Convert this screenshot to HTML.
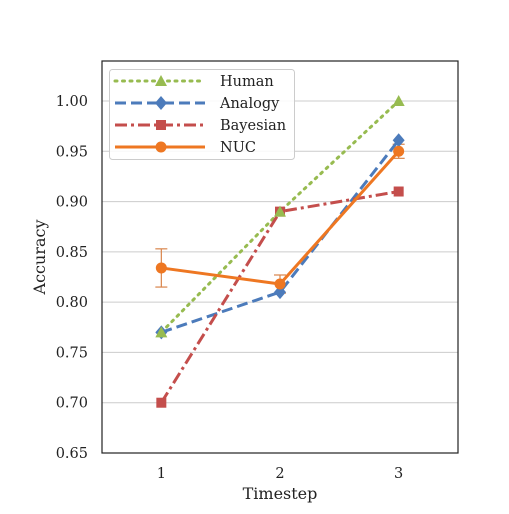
<!DOCTYPE html>
<html><head><meta charset="utf-8"><style>
body{margin:0;background:#fff}
svg text{font-family:"DejaVu Serif","Liberation Serif",serif;fill:#222}
</style></head><body>
<svg id="chart" width="509" height="509" xmlns="http://www.w3.org/2000/svg">
<rect width="509" height="509" fill="#fff"/>
<g id="grid"></g>
<g id="series"></g>
<rect x="102" y="61" width="356" height="392" fill="none" stroke="#222" stroke-width="1.2"/>
<g id="ticks"></g>
<text x="280" y="499" text-anchor="middle" font-size="16">Timestep</text>
<text transform="translate(45,257) rotate(-90)" text-anchor="middle" font-size="16">Accuracy</text>
<g id="legend">
<rect x="109.5" y="69.5" width="185" height="90" rx="3" fill="#fff" fill-opacity="0.85" stroke="#ccc"/>
</g>
</svg>
<script>
const timesteps=[1,2,3];
const yTicks=[0.65,0.70,0.75,0.80,0.85,0.90,0.95,1.00];
const human=[0.77,0.89,1.00];
const analogy=[0.77,0.81,0.961];
const bayesian=[0.70,0.89,0.91];
const nuc=[0.834,0.818,0.950];
const nucErr=[0.019,0.009,0.007];
const seriesNames=["Human","Analogy","Bayesian","NUC"];

const X=v=>102+(v-0.5)*(356/3);
const Y=v=>453-(v-0.65)*(352/0.35);
const NS="http://www.w3.org/2000/svg";
function mk(tag,attrs,parent){const e=document.createElementNS(NS,tag);for(const k in attrs)e.setAttribute(k,attrs[k]);parent.appendChild(e);return e;}
const grid=document.getElementById('grid'),ticks=document.getElementById('ticks'),ser=document.getElementById('series'),leg=document.getElementById('legend');
yTicks.forEach(t=>{
  const l=mk('line',{x1:102,x2:458,y1:Y(t),y2:Y(t),stroke:'#ccc','stroke-width':1},grid);
  
  
  const tx=mk('text',{x:88,y:Y(t)+5,'text-anchor':'end','font-size':14.5},ticks);
  tx.textContent=t.toFixed(2);
  
  
});
timesteps.forEach(t=>{
  const tx=mk('text',{x:X(t),y:478,'text-anchor':'middle','font-size':14.5},ticks);
  tx.textContent=t;
  
  
});
function marker(type,x,y,c,p){
  let e;
  if(type==='tri')e=mk('polygon',{points:`${x},${y-6} ${x+6},${y+5} ${x-6},${y+5}`,fill:c},p);
  else if(type==='dia')e=mk('polygon',{points:`${x},${y-7} ${x+6},${y} ${x},${y+7} ${x-6},${y}`,fill:c},p);
  else if(type==='sq')e=mk('rect',{x:x-5,y:y-5,width:10,height:10,fill:c},p);
  else e=mk('circle',{cx:x,cy:y,r:5.5,fill:c},p);
  return e;
}
const defs=[
 {vals:human,c:'#97bb50',dash:'2,5.5',m:'tri',name:'human'},
 {vals:analogy,c:'#4c7bbb',dash:'11,5',m:'dia',name:'analogy'},
 {vals:bayesian,c:'#c44e4c',dash:'12,4,3,4',m:'sq',name:'bayesian'},
 {vals:nuc,c:'#ee7722',dash:'',m:'circ',name:'nuc'}
];
nuc.forEach((v,i)=>{
  const g=mk('g',{stroke:'#d9844a','stroke-width':1.2},ser);
  
  
  const x=X(timesteps[i]);
  mk('line',{x1:x,x2:x,y1:Y(v-nucErr[i]),y2:Y(v+nucErr[i])},g);
  mk('line',{x1:x-6,x2:x+6,y1:Y(v-nucErr[i]),y2:Y(v-nucErr[i])},g);
  mk('line',{x1:x-6,x2:x+6,y1:Y(v+nucErr[i]),y2:Y(v+nucErr[i])},g);
});
defs.forEach((d,k)=>{
  const pts=d.vals.map((v,i)=>X(timesteps[i])+','+Y(v)).join(' ');
  const pl=mk('polyline',{points:pts,fill:'none',stroke:d.c,'stroke-width':3,'stroke-dasharray':d.dash,'stroke-linecap':d.m==='tri'?'round':'butt'},ser);
  
  
  if(d.m!=='tri'){
    d.vals.forEach((v,i)=>{
      const m=marker(d.m,X(timesteps[i]),Y(v),d.c,ser);
      
      
    });
  }
  const ly=81+k*22;
  const ll=mk('line',{x1:115,x2:205,y1:ly,y2:ly,stroke:d.c,'stroke-width':3,'stroke-dasharray':d.dash,'stroke-linecap':d.m==='tri'?'round':'butt'},leg);
  
  
  const lm=marker(d.m,161,ly,d.c,leg);
  
  
  const tx=mk('text',{x:220,y:ly+5,'font-size':14.5},leg);
  tx.textContent=seriesNames[k];
  
  
});
human.forEach((v,i)=>{
  const m=marker('tri',X(timesteps[i]),Y(v),'#97bb50',ser);
  
  
});
</script>
</body></html>
